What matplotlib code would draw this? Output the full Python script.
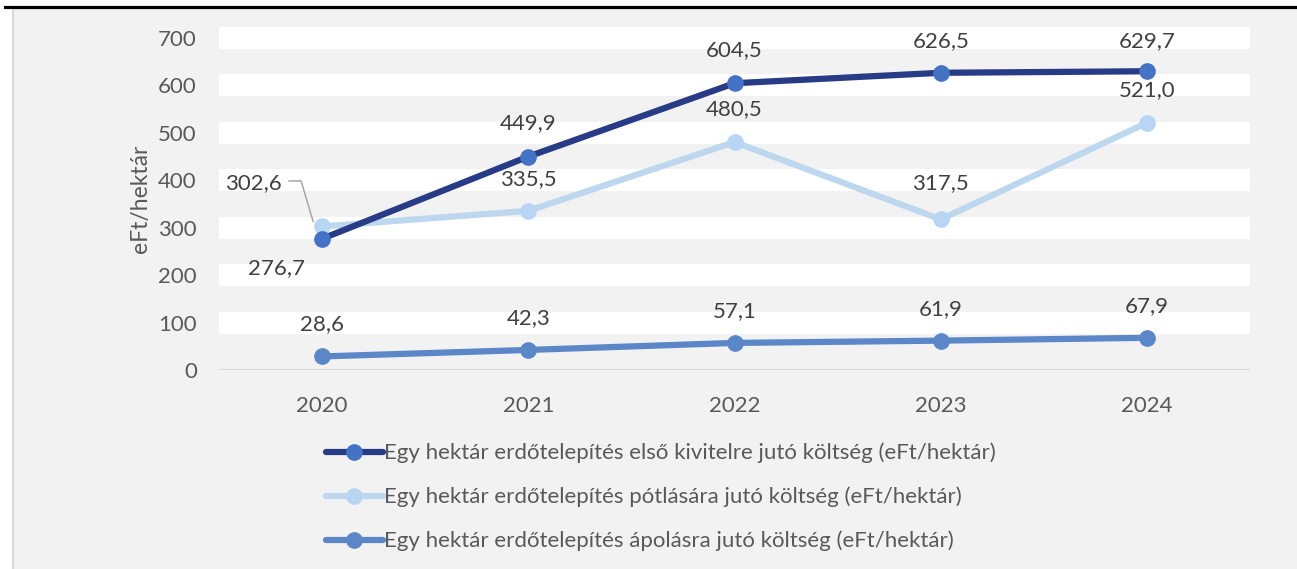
import matplotlib
matplotlib.use("Agg")
import matplotlib.pyplot as plt
from matplotlib.patches import Rectangle
from matplotlib.lines import Line2D

plt.rcParams['font.family'] = ['Lato', 'DejaVu Sans']

years = ['2020', '2021', '2022', '2023', '2024']
elso = [276.7, 449.9, 604.5, 626.5, 629.7]
potlas = [302.6, 335.5, 480.5, 317.5, 521.0]
apolas = [28.6, 42.3, 57.1, 61.9, 67.9]
names = [
    'Egy hektár erdőtelepítés első kivitelre jutó költség (eFt/hektár)',
    'Egy hektár erdőtelepítés pótlására jutó költség (eFt/hektár)',
    'Egy hektár erdőtelepítés ápolásra jutó költség (eFt/hektár)',
]
yticks = [0, 100, 200, 300, 400, 500, 600, 700]

W, H = 1297, 569
FS = 16
fig = plt.figure(figsize=(W / 100, H / 100), dpi=100, facecolor='white')

# chart frame
fig.patches.append(Rectangle((13 / W, 0), 1 - 13 / W, (H - 9) / H, transform=fig.transFigure,
                             facecolor='#F2F2F2', edgecolor='none', zorder=-5))
fig.add_artist(Line2D([13 / W, 13 / W], [0, (H - 9) / H], color='#D9D9D9', lw=1.5))
fig.add_artist(Line2D([5 / W, 1], [(H - 7) / H, (H - 7) / H], color='black', lw=2.3))

ax = fig.add_axes([219 / W, (H - 370) / H, (1250 - 219) / W, 343 / H])
ax.set_facecolor('#F2F2F2')
ax.set_xlim(-0.5, 4.5)
ax.set_ylim(0, 723)
for v in yticks[1:]:
    ax.axhspan(v - 23.2, v + 23.2, color='white', lw=0, zorder=0)
ax.axhline(0, color='#D9D9D9', lw=1.5, zorder=1)

x = range(len(years))
c_dark, c_dark_m = '#283B87', '#4472C4'
c_light = '#BDD7EE'
c_mid = '#5B87C8'

ax.plot(x, elso, color=c_dark, lw=4.5, marker='o', ms=11, mfc=c_dark_m, mec=c_dark_m,
        zorder=4, label=names[0], solid_capstyle='round')
ax.plot(x, potlas, color=c_light, lw=4.5, marker='o', ms=11, mfc='#B8D5F3', mec='#B8D5F3',
        zorder=3, label=names[1], solid_capstyle='round')
ax.plot(x, apolas, color=c_mid, lw=4.5, marker='o', ms=11, mfc=c_mid, mec=c_mid,
        zorder=3, label=names[2], solid_capstyle='round')

def fmt(v):
    return f'{v:.1f}'.replace('.', ',')

lab_kw = dict(textcoords='offset pixels', ha='center', va='center', fontsize=FS, color='#404040')
off1 = [(-46, -29), (0, 33), (0, 33), (0, 32), (0, 30)]
off2 = [(-69, 43), (0, 32), (0, 33), (0, 36), (0, 33)]
for i, v in enumerate(elso):
    ax.annotate(fmt(v), (i, v), xytext=off1[i], **lab_kw)
for i, v in enumerate(potlas):
    ax.annotate(fmt(v), (i, v), xytext=off2[i], **lab_kw)
for i, v in enumerate(apolas):
    ax.annotate(fmt(v), (i, v), xytext=(0, 32), **lab_kw)

# leader line for the 2020 replanting label (pixel offsets from the point)
px, py = ax.transData.transform((0, potlas[0]))
leader = [(-33, 45.5), (-21, 45.5), (-9, 5)]
pts = ax.transData.inverted().transform([(px + dx, py + dy) for dx, dy in leader])
ax.plot(pts[:, 0], pts[:, 1], color='#A6A6A6', lw=1.1, zorder=2)

ax.set_xticks(list(x))
ax.set_xticklabels(years)
ax.set_yticks(yticks)
ax.tick_params(length=0, labelsize=FS, labelcolor='#595959')
ax.tick_params(axis='x', pad=19)
ax.tick_params(axis='y', pad=16)
for s in ax.spines.values():
    s.set_visible(False)
ax.set_ylabel('eFt/hektár', fontsize=16.5, color='#595959', labelpad=5)

leg = fig.legend(loc='upper left', bbox_to_anchor=(317 / W, 1 - 434 / H), frameon=False,
                 fontsize=FS, labelspacing=1.05, handlelength=2.55, handletextpad=0.05,
                 borderaxespad=0)
for t in leg.get_texts():
    t.set_color('#595959')

fig.savefig('out.png', dpi=100, facecolor=fig.get_facecolor())
